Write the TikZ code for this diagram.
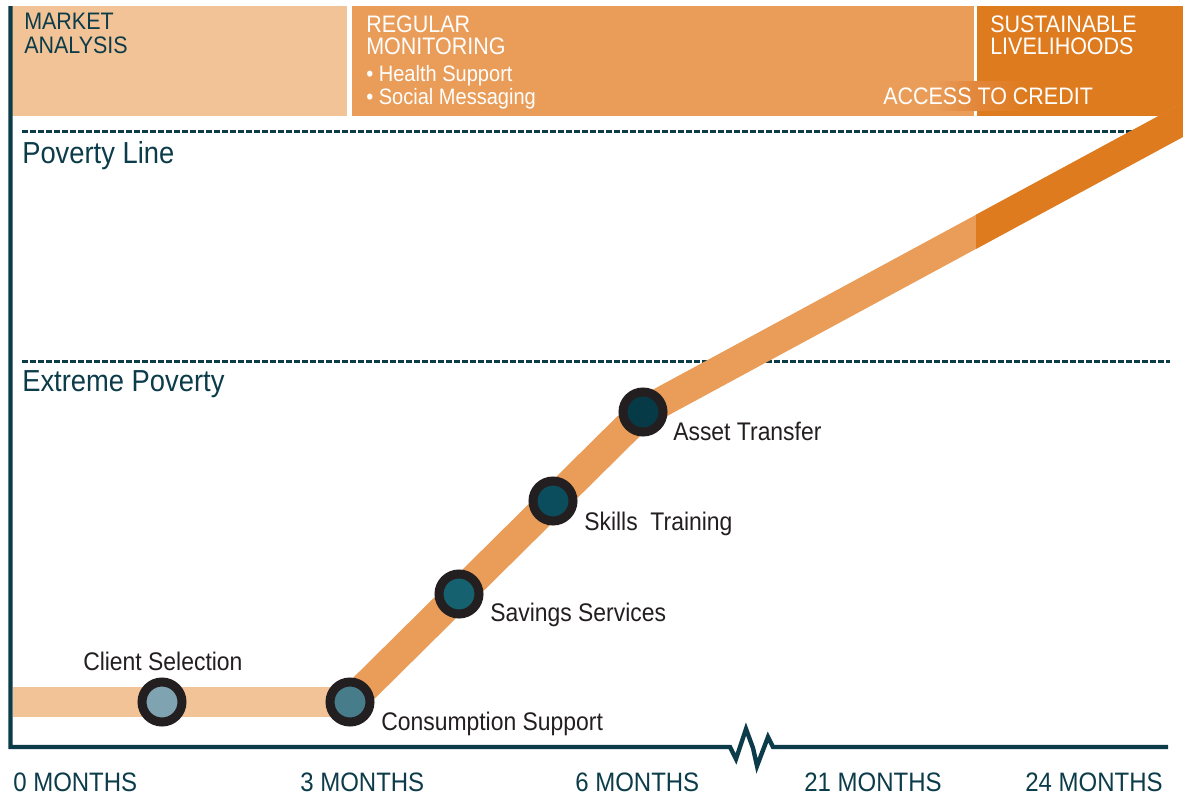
\documentclass[tikz,border=0pt]{standalone}
\usepackage{fontspec}
\setmainfont[FakeStretch=0.9]{Liberation Sans}
\usetikzlibrary{shapes.geometric}
\definecolor{peach}{HTML}{F2C396}
\definecolor{medorange}{HTML}{E99D59}
\definecolor{darkorange}{HTML}{DE7B1E}
\definecolor{tealdark}{HTML}{0C3C4A}
\definecolor{ringblack}{HTML}{231F20}
\definecolor{fillA}{HTML}{7FA3B1}
\definecolor{fillB}{HTML}{477D8B}
\definecolor{fillC}{HTML}{15616F}
\definecolor{fillD}{HTML}{0B4D5C}
\definecolor{fillE}{HTML}{073A47}
\definecolor{creditmid}{HTML}{E2863A}
\tikzset{
  bandtxt/.style={anchor=base west, inner sep=0pt, font=\fontsize{17.9}{20}\selectfont},
  bullettxt/.style={anchor=base west, inner sep=0pt, text=white, font=\fontsize{16.7}{19}\selectfont},
  leveltxt/.style={anchor=base west, inner sep=0pt, text=tealdark, font=\fontsize{22.8}{26}\selectfont},
  stoptxt/.style={anchor=base west, inner sep=0pt, text=ringblack, font=\fontsize{19.1}{22}\selectfont},
  monthtxt/.style={anchor=base west, inner sep=0pt, text=tealdark, font=\fontsize{20}{23}\selectfont},
  stopdot/.style={circle, draw=ringblack, line width=6.75pt, minimum size=30pt, inner sep=0pt},
  levelline/.style={draw=tealdark, line width=2.25pt, dash pattern=on 4.2pt off 1.8pt},
  track/.style={line width=22.5pt, line cap=butt},
  axisline/.style={draw=tealdark, line width=3.3pt, line join=miter},
}
\begin{document}
\begin{tikzpicture}[x=0.75pt, y=-0.75pt]
\useasboundingbox (0,0) rectangle (1183,796);
\clip (0,0) rectangle (1183,796);
\fill[white] (0,0) rectangle (1183,796);
% top bands
\fill[peach] (12,6) rectangle (347,116);
\fill[medorange] (352,6) rectangle (974,116);
\fill[darkorange] (977,6) rectangle (1183,116);
\shade[left color=medorange, right color=creditmid] (935,81) rectangle (977,110);
\shade[left color=creditmid, right color=darkorange] (977,81) rectangle (1025,110);
% level lines
\coordinate (pl1) at (22,131);
\coordinate (pl2) at (1170,131);
\coordinate (ep1) at (22,361);
\coordinate (ep2) at (1170,361);
\draw[levelline] (pl1) -- (pl2);
\draw[levelline] (ep1) -- (ep2);
% stops
\coordinate (start) at (13,702);
\coordinate (cs) at (162,702);
\coordinate (cons) at (350,702);
\coordinate (sav) at (459,594);
\coordinate (sk) at (553,501);
\coordinate (asset) at (643,412);
\coordinate (endpt) at (1240,89);
% track
\draw[track, draw=peach] (start) -- (cons);
\draw[track, draw=medorange, rounded corners=18pt] (cons) -- (asset) -- (endpt);
\begin{scope}
\clip (976,0) rectangle (1183,796);
\draw[track, draw=darkorange] (asset) -- (endpt);
\end{scope}
% axes
\coordinate (ytop) at (10.5,6);
\coordinate (origin) at (10.5,747);
\coordinate (b1) at (730,747);
\coordinate (b2) at (773,747);
\coordinate (xend) at (1168,747);
\draw[axisline] (ytop) -- (origin) -- (b1) -- (736,759) -- (746,729) -- (753,748) -- (757,766) -- (768,737) -- (b2) -- (xend);
% stop circles
\node[stopdot, fill=fillA] (ncs) at (cs) {};
\node[stopdot, fill=fillB] (ncons) at (cons) {};
\node[stopdot, fill=fillC] (nsav) at (sav) {};
\node[stopdot, fill=fillD] (nsk) at (sk) {};
\node[stopdot, fill=fillE] (nasset) at (asset) {};
% band texts
\node[bandtxt, text=tealdark] (t1) at (24,30) {MARKET};
\node[bandtxt, text=tealdark] (t2) at (24,53) {ANALYSIS};
\node[bandtxt, text=white] (t3) at (366,32) {REGULAR};
\node[bandtxt, text=white] (t4) at (366,54) {MONITORING};
\node[bullettxt] (t5) at (366,81) {• Health Support};
\node[bullettxt] (t6) at (366,104) {• Social Messaging};
\node[bandtxt, text=white] (t7) at (990,32) {SUSTAINABLE};
\node[bandtxt, text=white] (t8) at (990,54) {LIVELIHOODS};
\node[bandtxt, text=white] (t9) at (883,104) {ACCESS TO CREDIT};
% level labels
\node[leveltxt] (lp) at (22,163) {Poverty Line};
\node[leveltxt] (le) at (22,391) {Extreme Poverty};
% stop labels
\node[stoptxt] (lcs) at (83,670) {Client Selection};
\node[stoptxt] (lcons) at (381,730) {Consumption Support};
\node[stoptxt] (lsav) at (490,621) {Savings Services};
\node[stoptxt] (lsk) at (584,530) {Skills\ \ Training};
\node[stoptxt] (las) at (673,440) {Asset Transfer};
% months
\node[monthtxt] (m0) at (13,791) {0 MONTHS};
\node[monthtxt] (m3) at (300,791) {3 MONTHS};
\node[monthtxt] (m6) at (575,791) {6 MONTHS};
\node[monthtxt] (m21) at (804,791) {21 MONTHS};
\node[monthtxt] (m24) at (1025,791) {24 MONTHS};
\end{tikzpicture}
\end{document}
